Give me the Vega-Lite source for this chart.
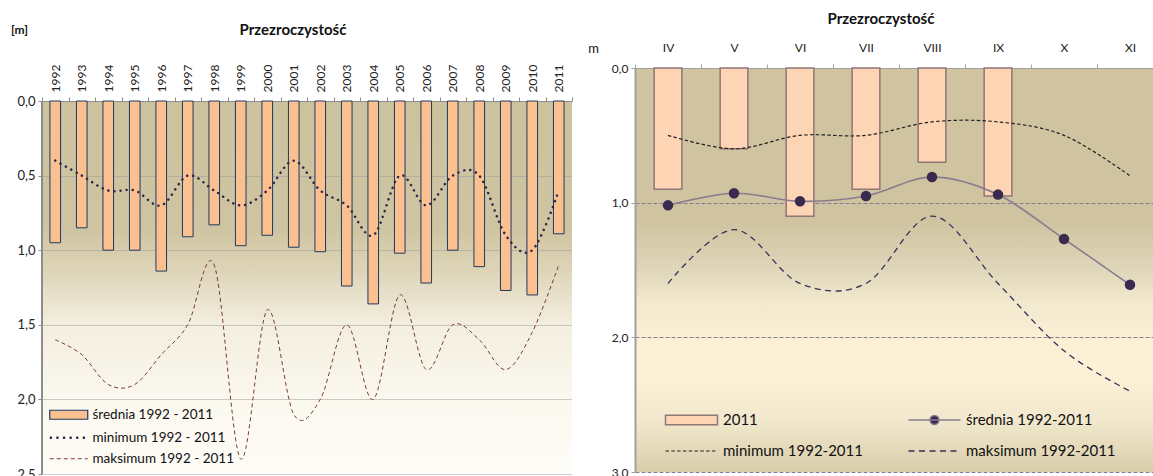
{
  "$schema": "https://vega.github.io/schema/vega-lite/v6.json",
  "padding": {"left": 10, "top": 12, "right": 0, "bottom": 0},
  "spacing": 14,
  "config": {"font": "Lato", "view": {"stroke": null}, "axis": {"labelColor": "#222222", "titleColor": "#111111"}, "title": {"color": "#111111"}, "legend": {"labelColor": "#111111", "padding": 0, "title": null}},
  "resolve": {"scale": {"fill": "independent", "stroke": "independent", "x": "independent", "y": "independent"}, "legend": {"fill": "independent", "stroke": "independent"}},
  "hconcat": [
    {
      "width": 530,
      "height": 406,
      "title": {"text": "Przezroczystość", "fontSize": 15, "fontWeight": "bold", "offset": -15, "dx": -14},
      "view": {"stroke": null, "fill": {"gradient": "linear", "x1": 0, "y1": 0, "x2": 0, "y2": 1, "stops": [
        {"offset": 0, "color": "#FFFFFF"},
        {"offset": 0.0812, "color": "#FFFFFF"},
        {"offset": 0.0813, "color": "#CDC29E"},
        {"offset": 0.394, "color": "#CFC4A1"},
        {"offset": 0.495, "color": "#DDD4B7"},
        {"offset": 0.632, "color": "#F3EEDF"},
        {"offset": 0.816, "color": "#FBF8EF"},
        {"offset": 1, "color": "#FEFCF7"}
      ]}},
      "data": {"values": [
        {"year": "1992", "mean": 0.95, "min": 0.40, "max": 1.60},
        {"year": "1993", "mean": 0.85, "min": 0.50, "max": 1.70},
        {"year": "1994", "mean": 1.00, "min": 0.60, "max": 1.90},
        {"year": "1995", "mean": 1.00, "min": 0.60, "max": 1.90},
        {"year": "1996", "mean": 1.14, "min": 0.70, "max": 1.70},
        {"year": "1997", "mean": 0.91, "min": 0.50, "max": 1.50},
        {"year": "1998", "mean": 0.83, "min": 0.60, "max": 1.10},
        {"year": "1999", "mean": 0.97, "min": 0.70, "max": 2.40},
        {"year": "2000", "mean": 0.90, "min": 0.60, "max": 1.40},
        {"year": "2001", "mean": 0.98, "min": 0.40, "max": 2.10},
        {"year": "2002", "mean": 1.01, "min": 0.60, "max": 2.00},
        {"year": "2003", "mean": 1.24, "min": 0.70, "max": 1.50},
        {"year": "2004", "mean": 1.36, "min": 0.90, "max": 2.00},
        {"year": "2005", "mean": 1.02, "min": 0.50, "max": 1.30},
        {"year": "2006", "mean": 1.22, "min": 0.70, "max": 1.80},
        {"year": "2007", "mean": 1.00, "min": 0.50, "max": 1.50},
        {"year": "2008", "mean": 1.11, "min": 0.50, "max": 1.60},
        {"year": "2009", "mean": 1.27, "min": 0.90, "max": 1.80},
        {"year": "2010", "mean": 1.30, "min": 1.00, "max": 1.55},
        {"year": "2011", "mean": 0.89, "min": 0.60, "max": 1.10}
      ]},
      "encoding": {
        "x": {"field": "year", "type": "nominal", "sort": null,
          "scale": {"paddingInner": 0, "paddingOuter": 0},
          "axis": {"orient": "top", "offset": -33, "labelAngle": -90, "labelFontSize": 12, "labelPadding": 5, "tickSize": 4, "tickBand": "extent", "domainColor": "#8C8C8C", "tickColor": "#8C8C8C", "title": null}}
      },
      "resolve": {"scale": {"fill": "independent", "stroke": "independent"}, "legend": {"fill": "independent", "stroke": "independent"}},
      "layer": [
        {
          "mark": {"type": "bar", "width": {"band": 0.4}, "stroke": "#1F3A60", "strokeWidth": 1},
          "encoding": {
            "y": {"field": "mean", "type": "quantitative", "scale": {"domain": [-0.2212, 2.5], "reverse": true, "nice": false, "zero": false},
              "axis": {"values": [0, 0.5, 1, 1.5, 2, 2.5], "labelExpr": "replace(format(datum.value, '.1f'), '.', ',')", "grid": true, "gridColor": "#9A9A9A", "gridDash": [1, 1], "domain": false, "tickColor": "#8C8C8C", "tickSize": 4, "labelPadding": 3, "labelFontSize": 13, "title": "[m]", "titleAngle": 0, "titleX": -23, "titleY": -39, "titleAlign": "center", "titleBaseline": "middle", "titleFontSize": 12, "titleFontWeight": "bold"}},
            "fill": {"datum": "średnia 1992 - 2011", "scale": {"range": ["#FAC090"]},
              "legend": {"orient": "none", "legendX": 6, "legendY": 340, "symbolType": "M-1,-0.9H6.6V0.9H-1Z", "symbolSize": 100, "symbolStrokeColor": "#1F3A60", "symbolStrokeWidth": 1.2, "symbolOpacity": 1, "labelOffset": 31, "labelFontSize": 13.5}}
          }
        },
        {
          "mark": {"type": "rule", "color": "#8C8C8C", "strokeWidth": 1},
          "encoding": {
            "x": {"datum": "1992", "bandPosition": 0},
            "y": {"datum": 0, "type": "quantitative"},
            "y2": {"datum": 2.5}
          }
        },
        {
          "mark": {"type": "line", "interpolate": "cardinal", "strokeWidth": 2.5, "strokeDash": [0.1, 6], "strokeCap": "round"},
          "encoding": {
            "y": {"field": "min", "type": "quantitative", "title": "[m]"},
            "stroke": {"datum": "minimum 1992 - 2011", "scale": {"range": ["#2E2848"]},
              "legend": {"orient": "none", "legendX": 6, "legendY": 363, "symbolType": "M-1,0H6.6", "symbolSize": 100, "symbolDash": [2.2, 4.4], "symbolStrokeWidth": 2.5, "symbolFillColor": "transparent", "symbolOpacity": 1, "labelOffset": 31, "labelFontSize": 13.5}}
          }
        },
        {
          "mark": {"type": "line", "interpolate": "cardinal", "strokeWidth": 1, "strokeDash": [4, 3]},
          "encoding": {
            "y": {"field": "max", "type": "quantitative", "title": "[m]"},
            "stroke": {"datum": "maksimum 1992 - 2011", "scale": {"range": ["#7A3B3B"]},
              "legend": {"orient": "none", "legendX": 6, "legendY": 384, "symbolType": "M-1,0H6.6", "symbolSize": 100, "symbolDash": [4, 3], "symbolStrokeWidth": 1.2, "symbolFillColor": "transparent", "symbolOpacity": 1, "labelOffset": 31, "labelFontSize": 13.5}}
          }
        }
      ]
    },
    {
      "width": 528,
      "height": 404,
      "title": {"text": "Przezroczystość", "fontSize": 15, "fontWeight": "bold", "offset": 14, "dx": -18},
      "view": {"stroke": null, "fill": {"gradient": "linear", "x1": 0, "y1": 0, "x2": 0, "y2": 1, "stops": [
        {"offset": 0, "color": "#CFC3A0"},
        {"offset": 0.38, "color": "#CFC3A0"},
        {"offset": 0.5, "color": "#E0D6B9"},
        {"offset": 0.58, "color": "#F2E9CF"},
        {"offset": 0.67, "color": "#FBEFD4"},
        {"offset": 0.77, "color": "#FDF0D6"},
        {"offset": 0.87, "color": "#F2E8CD"},
        {"offset": 1, "color": "#D9CDAA"}
      ]}},
      "data": {"values": [
        {"month": "IV", "y2011": 0.90, "mean": 1.02, "min": 0.50, "max": 1.60},
        {"month": "V", "y2011": 0.60, "mean": 0.93, "min": 0.60, "max": 1.20},
        {"month": "VI", "y2011": 1.10, "mean": 0.99, "min": 0.50, "max": 1.60},
        {"month": "VII", "y2011": 0.90, "mean": 0.95, "min": 0.50, "max": 1.60},
        {"month": "VIII", "y2011": 0.70, "mean": 0.81, "min": 0.40, "max": 1.10},
        {"month": "IX", "y2011": 0.95, "mean": 0.94, "min": 0.40, "max": 1.60},
        {"month": "X", "y2011": null, "mean": 1.27, "min": 0.50, "max": 2.10},
        {"month": "XI", "y2011": null, "mean": 1.61, "min": 0.80, "max": 2.40}
      ]},
      "encoding": {
        "x": {"field": "month", "type": "nominal", "sort": null,
          "scale": {"paddingInner": 0, "paddingOuter": 0},
          "axis": {"orient": "top", "labelAngle": 0, "labelFontSize": 12, "labelPadding": 10, "tickSize": 4, "tickBand": "extent", "domainColor": "#A0A0A0", "tickColor": "#A0A0A0", "title": null}}
      },
      "resolve": {"scale": {"fill": "independent", "stroke": "independent"}, "legend": {"fill": "independent", "stroke": "independent"}},
      "layer": [
        {
          "mark": {"type": "bar", "width": {"band": 0.42}, "stroke": "#8F7777", "strokeWidth": 1.5},
          "encoding": {
            "y": {"field": "y2011", "type": "quantitative", "scale": {"domain": [0, 3], "reverse": true, "nice": false},
              "axis": {"values": [0, 1, 2, 3], "labelExpr": "replace(format(datum.value, '.1f'), '.', ',')", "grid": true, "gridColor": "#7F7F99", "gridDash": [4, 2], "domainColor": "#A0A0A0", "domainWidth": 2, "tickColor": "#A0A0A0", "tickSize": 4, "labelPadding": 3, "labelFontSize": 12, "title": "m", "titleAngle": 0, "titleX": -42, "titleY": -20, "titleAlign": "center", "titleBaseline": "middle", "titleFontSize": 13, "titleFontWeight": "normal"}},
            "fill": {"datum": "2011", "scale": {"range": ["#FDD5B4"]},
              "legend": {"orient": "none", "legendX": 28, "legendY": 344.5, "symbolType": "M-1,-0.93H9.4V0.93H-1Z", "symbolSize": 100, "symbolStrokeColor": "#8F7777", "symbolStrokeWidth": 1.5, "symbolOpacity": 1, "labelOffset": 45, "labelFontSize": 15}}
          }
        },
        {
          "mark": {"type": "line", "interpolate": "cardinal", "strokeWidth": 1.3, "strokeDash": [6, 4.5]},
          "encoding": {
            "y": {"field": "max", "type": "quantitative", "title": "m"},
            "stroke": {"datum": "maksimum 1992-2011", "scale": {"range": ["#3E2E58"]},
              "legend": {"orient": "none", "legendX": 271, "legendY": 375.5, "symbolType": "M-1,0H9.4", "symbolSize": 100, "symbolDash": [6, 4.5], "symbolStrokeWidth": 1.3, "symbolFillColor": "transparent", "symbolOpacity": 1, "labelOffset": 45, "labelFontSize": 15}}
          }
        },
        {
          "mark": {"type": "line", "interpolate": "cardinal", "strokeWidth": 1.2, "strokeDash": [3.5, 2.3]},
          "encoding": {
            "y": {"field": "min", "type": "quantitative", "title": "m"},
            "stroke": {"datum": "minimum 1992-2011", "scale": {"range": ["#222222"]},
              "legend": {"orient": "none", "legendX": 28, "legendY": 375.5, "symbolType": "M-1,0H9.4", "symbolSize": 100, "symbolDash": [3.5, 2.3], "symbolStrokeWidth": 1.2, "symbolFillColor": "transparent", "symbolOpacity": 1, "labelOffset": 45, "labelFontSize": 15}}
          }
        },
        {
          "mark": {"type": "line", "interpolate": "cardinal", "stroke": "#8A7C8E", "strokeWidth": 1.6},
          "encoding": {"y": {"field": "mean", "type": "quantitative", "title": "m"}}
        },
        {
          "mark": {"type": "point", "filled": true, "size": 110, "opacity": 1},
          "encoding": {
            "y": {"field": "mean", "type": "quantitative", "title": "m"},
            "fill": {"datum": "średnia 1992-2011", "scale": {"range": ["#3B2A50"]},
              "legend": {"orient": "none", "legendX": 271, "legendY": 344.5, "symbolType": "M-1,0H9.4M3.3,0A0.9,0.9 0 1,1 5.1,0A0.9,0.9 0 1,1 3.3,0", "symbolSize": 100, "symbolStrokeColor": "#8A7C8E", "symbolStrokeWidth": 1.5, "symbolOpacity": 1, "labelOffset": 45, "labelFontSize": 15}}
          }
        }
      ]
    }
  ]
}
